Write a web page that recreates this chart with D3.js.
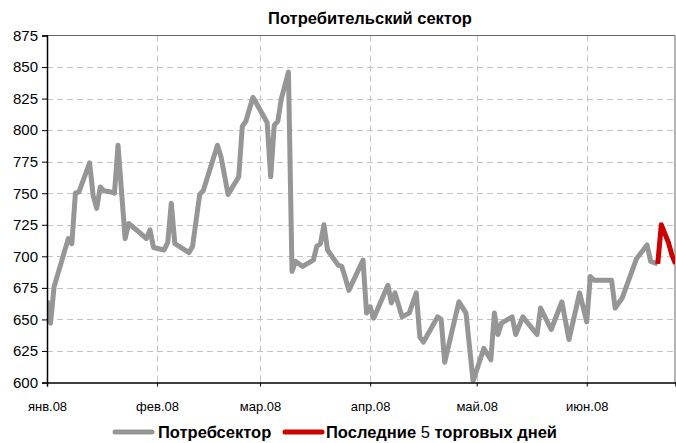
<!DOCTYPE html>
<html>
<head>
<meta charset="utf-8">
<title>Потребительский сектор</title>
<script src="https://cdn.jsdelivr.net/npm/d3@7"></script>
<style>
  body { margin: 0; background: #fff; }
  text { font-family: "Liberation Sans", Arial, sans-serif; }
</style>
</head>
<body>
<script>
// values
var grayDates = ["2008-01-01","2008-01-02","2008-01-03","2008-01-05","2008-01-07","2008-01-08","2008-01-09","2008-01-10",
  "2008-01-13","2008-01-14","2008-01-15","2008-01-16","2008-01-17","2008-01-19","2008-01-20","2008-01-21","2008-01-23",
  "2008-01-24","2008-01-27","2008-01-29","2008-01-30","2008-01-31","2008-02-03","2008-02-04","2008-02-05","2008-02-06",
  "2008-02-10","2008-02-11","2008-02-13","2008-02-14","2008-02-16","2008-02-18","2008-02-19","2008-02-21","2008-02-24",
  "2008-02-25","2008-02-26","2008-02-28","2008-03-03","2008-03-04","2008-03-05","2008-03-06","2008-03-07","2008-03-09",
  "2008-03-10","2008-03-11","2008-03-13","2008-03-16","2008-03-17","2008-03-18","2008-03-19","2008-03-20","2008-03-23",
  "2008-03-24","2008-03-25","2008-03-26","2008-03-30","2008-03-31","2008-04-01","2008-04-02","2008-04-06","2008-04-07",
  "2008-04-08","2008-04-10","2008-04-12","2008-04-14","2008-04-15","2008-04-16","2008-04-18","2008-04-20","2008-04-21",
  "2008-04-22","2008-04-26","2008-04-28","2008-04-30","2008-05-03","2008-05-05","2008-05-06","2008-05-07","2008-05-08",
  "2008-05-11","2008-05-12","2008-05-14","2008-05-18","2008-05-19","2008-05-22","2008-05-25","2008-05-27","2008-05-30",
  "2008-06-01","2008-06-02","2008-06-03","2008-06-08","2008-06-09","2008-06-11","2008-06-15","2008-06-18","2008-06-19",
  "2008-06-21"];
var grayValues = [665,647,676,695,714,710,750,751,
  774,748,738,755,752,751,750,788,714,
  726,719,714,721,707,705,711,742,710,
  703,708,749,752,770,788,779,749,763,
  803,807,826,806,763,804,807,825,846,
  688,696,692,697,708,710,725,705,693,
  692,683,673,697,655,660,651,677,663,
  671,652,655,671,636,632,642,652,650,
  616,664,655,601,627,618,655,638,647,
  652,638,652,638,659,642,664,634,671,
  648,684,681,681,659,667,698,709,696,
  694];
var redDates = ["2008-06-21","2008-06-22","2008-06-24","2008-06-25","2008-06-26"];
var redValues = [694,725,711,701,694];

var yTicks = [600,625,650,675,700,725,750,775,800,825,850,875];
var monthLabels = ["янв.08","фев.08","мар.08","апр.08","май.08","июн.08"];
var seriesNames = ["Потребсектор", "Последние ", "5", " торговых дней"];

var W = 676, H = 443;
var pL = 47, pR = 675, pT = 35.5, pB = 382.5;

var parse = d3.timeParse("%Y-%m-%d");
var gray = grayDates.map(function(d, i){ return {date: parse(d), value: grayValues[i]}; });
var red = redDates.map(function(d, i){ return {date: parse(d), value: redValues[i]}; });

var x = d3.scaleTime()
  .domain([parse("2008-01-01"), parse("2008-06-26")])
  .range([pL, pR + 0.5]);
var y = d3.scaleLinear().domain([600, 875]).range([pB, pT]);

var svg = d3.select("body").append("svg")
  .attr("width", W).attr("height", H);

svg.append("clipPath").attr("id", "plot")
  .append("rect").attr("x", pL).attr("y", pT)
  .attr("width", pR - pL).attr("height", pB - pT);

var monthTicks = d3.timeMonth.range(parse("2008-01-01"), parse("2008-06-02"));

// grid
svg.append("g").selectAll("line")
  .data(yTicks.slice(1, -1))
  .enter().append("line")
    .attr("x1", pL).attr("x2", pR)
    .attr("y1", function(d){ return Math.round(y(d)) + 0.5; })
    .attr("y2", function(d){ return Math.round(y(d)) + 0.5; })
    .attr("stroke", "#c3c3c3").attr("stroke-dasharray", "6,4");

svg.append("g").selectAll("line")
  .data(monthTicks.slice(1))
  .enter().append("line")
    .attr("x1", function(d){ return Math.round(x(d)) + 0.5; })
    .attr("x2", function(d){ return Math.round(x(d)) + 0.5; })
    .attr("y1", pT).attr("y2", pB)
    .attr("stroke", "#c3c3c3").attr("stroke-dasharray", "6,4");

// frame top / right
svg.append("path")
  .attr("d", "M" + pL + "," + pT + "H" + pR + "V" + pB)
  .attr("fill", "none").attr("stroke", "#666");

// lines
var line = d3.line()
  .x(function(d){ return x(d.date); })
  .y(function(d){ return y(d.value); });

var lines = svg.append("g").attr("clip-path", "url(#plot)");
lines.append("path").datum(gray)
  .attr("d", line)
  .attr("fill", "none").attr("stroke", "#969696")
  .attr("stroke-width", 5).attr("stroke-linejoin", "round");
lines.append("path").datum(red)
  .attr("d", line)
  .attr("fill", "none").attr("stroke", "#cc0000")
  .attr("stroke-width", 5).attr("stroke-linejoin", "round");

// axes
var yAxis = svg.append("g")
  .attr("transform", "translate(" + pL + ",0)")
  .call(d3.axisLeft(y).tickValues(yTicks).tickSize(5).tickPadding(4));
var xAxis = svg.append("g")
  .attr("transform", "translate(0," + pB + ")")
  .call(d3.axisBottom(x).tickValues(monthTicks).tickSize(4).tickPadding(15)
    .tickFormat(function(d, i){ return monthLabels[i]; }));

[yAxis, xAxis].forEach(function(a){
  a.select(".domain").attr("stroke", "#000").attr("stroke-width", 1.5);
  a.selectAll(".tick line").attr("stroke", "#000");
  a.selectAll("text").attr("fill", "#000")
    .style("font-family", "'Liberation Sans', Arial, sans-serif");
});
yAxis.selectAll("text").style("font-size", "15px");
xAxis.selectAll("text").style("font-size", "13px");

// title
svg.append("text")
  .attr("x", 370).attr("y", 24)
  .attr("text-anchor", "middle")
  .style("font-size", "16.5px").style("font-weight", "bold")
  .text("Потребительский сектор");

// legend
var lg = svg.append("g");
lg.append("line").attr("x1", 115).attr("x2", 152).attr("y1", 432).attr("y2", 432)
  .attr("stroke", "#969696").attr("stroke-width", 5).attr("stroke-linecap", "round");
lg.append("text").attr("x", 158).attr("y", 438)
  .style("font-size", "16.5px").style("font-weight", "bold")
  .text(seriesNames[0]);
lg.append("line").attr("x1", 285).attr("x2", 322).attr("y1", 432).attr("y2", 432)
  .attr("stroke", "#cc0000").attr("stroke-width", 5).attr("stroke-linecap", "round");
var t2 = lg.append("text").attr("x", 326).attr("y", 438)
  .style("font-size", "16.5px").style("font-weight", "bold");
t2.append("tspan").text(seriesNames[1]);
t2.append("tspan").style("font-weight", "normal").text(seriesNames[2]);
t2.append("tspan").text(seriesNames[3]);
</script>
</body>
</html>
